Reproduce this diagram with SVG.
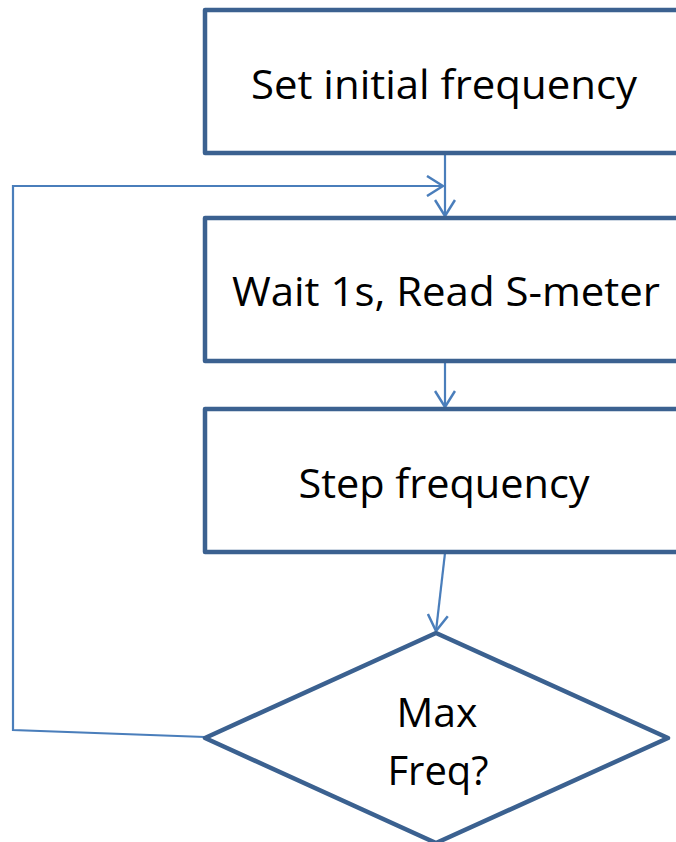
<svg xmlns="http://www.w3.org/2000/svg" width="676" height="842" viewBox="0 0 676 842">
<style>
.box{fill:#ffffff;stroke:#3b6190;stroke-width:4.5;stroke-linejoin:round}
.conn{fill:none;stroke:#4a7ebb;stroke-width:2.2}
.lbl{font-family:"Open Sans","Liberation Sans",sans-serif;font-size:40px;fill:#000000;text-anchor:middle}
</style>
<defs>
<marker id="arr" viewBox="0 0 18 22" refX="17" refY="11" markerWidth="18" markerHeight="22" markerUnits="userSpaceOnUse" orient="auto">
<path d="M1,1 L17,11 L1,21" fill="none" stroke="#4a7ebb" stroke-width="2.5"/>
</marker>
</defs>
<g id="connectors">
<line class="conn" x1="445" y1="154" x2="445" y2="216" marker-end="url(#arr)"/>
<line class="conn" x1="445" y1="362" x2="445" y2="407" marker-end="url(#arr)"/>
<line class="conn" x1="445" y1="553" x2="436" y2="631" marker-end="url(#arr)"/>
<polyline class="conn" points="205,737 13,730 13,186 443,186" marker-end="url(#arr)"/>
</g>
<g id="node1">
<rect class="box" x="205" y="10" width="500" height="143"/>
<text class="lbl" x="444" y="99" textLength="386" lengthAdjust="spacingAndGlyphs">Set initial frequency</text>
</g>
<g id="node2">
<rect class="box" x="205" y="218" width="500" height="143"/>
<text class="lbl" x="446" y="306" textLength="428" lengthAdjust="spacingAndGlyphs">Wait 1s, Read S-meter</text>
</g>
<g id="node3">
<rect class="box" x="205" y="409" width="500" height="143"/>
<text class="lbl" x="444" y="498" textLength="291" lengthAdjust="spacingAndGlyphs">Step frequency</text>
</g>
<g id="node4">
<polygon class="box" points="436,633 668,738 436,843 205,738"/>
<text class="lbl" x="437" y="727" textLength="81" lengthAdjust="spacingAndGlyphs">Max</text>
<text class="lbl" x="438" y="785" textLength="101" lengthAdjust="spacingAndGlyphs">Freq?</text>
</g>
</svg>
